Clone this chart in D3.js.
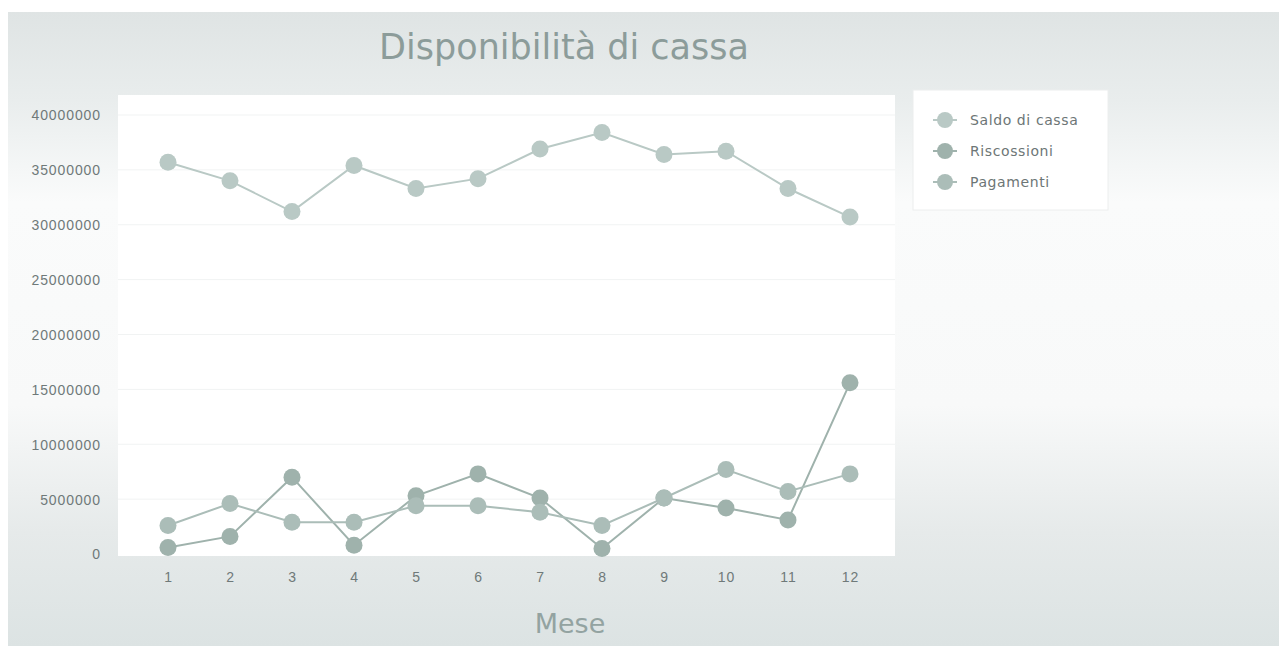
<!DOCTYPE html>
<html><head><meta charset="utf-8">
<script src="https://cdn.jsdelivr.net/npm/d3@7"></script>
<style>
html,body{margin:0;padding:0;background:#fff;}
svg{display:block;font-family:"DejaVu Sans",Verdana,sans-serif;}
</style></head>
<body><svg id="c" width="1279" height="646"></svg>
<script>
const months = ["1","2","3","4","5","6","7","8","9","10","11","12"];
const saldo = [35700000,34000000,31200000,35400000,33300000,34200000,36900000,38400000,36400000,36700000,33300000,30700000];
const riscossioni = [600000,1600000,7000000,800000,5300000,7300000,5100000,500000,5100000,4200000,3100000,15600000];
const pagamenti = [2600000,4600000,2900000,2900000,4400000,4400000,3800000,2600000,5100000,7700000,5700000,7300000];
const yTicks = [0,5000000,10000000,15000000,20000000,25000000,30000000,35000000,40000000];
const seriesNames = ["Saldo di cassa","Riscossioni","Pagamenti"];
const seriesColors = ["#b9c9c5","#9fb2ac","#abbdb8"];
const seriesData = [saldo, riscossioni, pagamenti];

const svg = d3.select("#c");
const defs = svg.append("defs");
const g1 = defs.append("linearGradient").attr("id","bgv").attr("x1",0).attr("y1",0).attr("x2",0).attr("y2",1);
g1.append("stop").attr("offset","0").attr("stop-color","#dfe4e4");
g1.append("stop").attr("offset","0.14").attr("stop-color","#e9eded");
g1.append("stop").attr("offset","0.3").attr("stop-color","#fafbfb");
g1.append("stop").attr("offset","0.62").attr("stop-color","#f8f9f9");
g1.append("stop").attr("offset","0.82").attr("stop-color","#e6eaea");
g1.append("stop").attr("offset","1").attr("stop-color","#dce3e3");

// scanned background
svg.append("rect").attr("x",8).attr("y",12).attr("width",1271).attr("height",634).attr("fill","url(#bgv)");

// plot area
const plot = {x0:118, x1:895, y0:95, y1:556};
svg.append("rect").attr("x",plot.x0).attr("y",plot.y0).attr("width",plot.x1-plot.x0).attr("height",plot.y1-plot.y0).attr("fill","#ffffff");

const x = d3.scalePoint().domain(months).range([168,850]);
const y = d3.scaleLinear().domain([0,40000000]).range([554,115]);

// gridlines
svg.append("g").selectAll("line").data(yTicks.slice(1)).join("line")
  .attr("x1",plot.x0).attr("x2",plot.x1)
  .attr("y1",d=>y(d)).attr("y2",d=>y(d))
  .attr("stroke","#f1f3f3").attr("stroke-width",1);

// y axis
const yAxis = d3.axisLeft(y).tickValues(yTicks).tickSize(0).tickPadding(0).tickFormat(d3.format("d"));
const ya = svg.append("g").attr("transform","translate(101,0)").call(yAxis);
ya.select(".domain").remove();
ya.selectAll("text").attr("fill","#6f7979").attr("font-size",14).attr("letter-spacing","0.9px").attr("dy","0.35em");

// x axis
const xAxis = d3.axisBottom(x).tickSize(0).tickPadding(0);
const xa = svg.append("g").attr("transform","translate(0,571)").call(xAxis);
xa.select(".domain").remove();
xa.selectAll("text").attr("fill","#6f7979").attr("font-size",14).attr("letter-spacing","0.9px").attr("dy","0.75em");

// title
svg.append("text").attr("x",564).attr("y",59).attr("text-anchor","middle")
  .attr("font-size",35).attr("fill","#8c9c9a").text("Disponibilità di cassa");
// x axis title
svg.append("text").attr("x",570).attr("y",633).attr("text-anchor","middle")
  .attr("font-size",27).attr("fill","#93a3a1").text("Mese");

// lines & markers
const line = d3.line().x((d,i)=>x(months[i])).y(d=>y(d));
seriesData.forEach((s,k)=>{
  svg.append("path").datum(s).attr("d",line).attr("fill","none")
    .attr("stroke",seriesColors[k]).attr("stroke-width",2);
});
seriesData.forEach((s,k)=>{
  svg.append("g").selectAll("circle").data(s).join("circle")
    .attr("cx",(d,i)=>x(months[i])).attr("cy",d=>y(d)).attr("r",8.5)
    .attr("fill",seriesColors[k]);
});

// legend
const lg = svg.append("g");
lg.append("rect").attr("x",913).attr("y",90).attr("width",195).attr("height",120)
  .attr("fill","#ffffff").attr("stroke","#eceeee").attr("stroke-width",1);
const items = lg.selectAll("g.item").data(seriesNames).join("g").attr("class","item")
  .attr("transform",(d,i)=>`translate(945,${120+i*31})`);
items.append("line").attr("x1",-12).attr("x2",12).attr("y1",0).attr("y2",0)
  .attr("stroke",(d,i)=>seriesColors[i]).attr("stroke-width",2);
items.append("circle").attr("r",8).attr("fill",(d,i)=>seriesColors[i]);
items.append("text").attr("x",25).attr("dy","0.35em").attr("font-size",14)
  .attr("letter-spacing","0.6px").attr("fill","#6d7676").text(d=>d);
</script></body></html>
